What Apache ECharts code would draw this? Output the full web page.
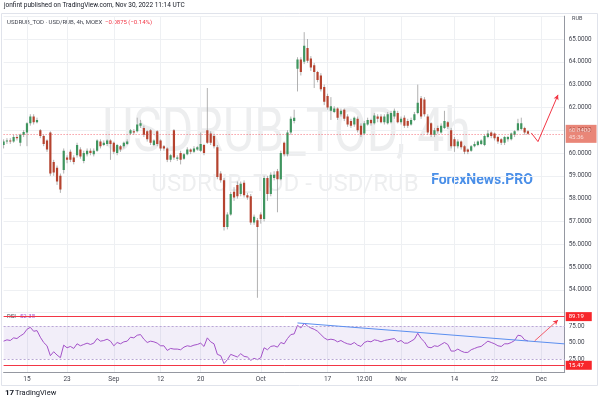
<!DOCTYPE html>
<html><head><meta charset="utf-8">
<script src="https://cdn.jsdelivr.net/npm/echarts@6/dist/echarts.min.js"></script>
<style>html,body{margin:0;padding:0;background:#fff}#c{width:600px;height:403px}</style>
</head><body><div id="c"></div>
<script>
// ---- calendar (MOEX trading days, 2 x 4h bars per day) ----
const monthNames = ['Jan','Feb','Mar','Apr','May','Jun','Jul','Aug','Sep','Oct','Nov','Dec'];
const holidays = ['2022-11-04'];
const barTimes = ['08:00','12:00'];
const categories = [];
(function(){
  let d = new Date(Date.UTC(2022,7,9));
  const end = new Date(Date.UTC(2022,11,6));
  while (d <= end) {
    const wd = d.getUTCDay(), iso = d.toISOString().slice(0,10);
    if (wd !== 0 && wd !== 6 && !holidays.includes(iso)) {
      const nm = monthNames[d.getUTCMonth()] + ' ' + d.getUTCDate();
      barTimes.forEach(t => categories.push(nm + ' ' + t));
    }
    d = new Date(d.getTime() + 86400000);
  }
  categories.shift();
})();

// ---- x tick labels ----
const xLabelAt = ['Aug 15 08:00','Aug 23 08:00','Sep 1 08:00','Sep 12 08:00','Sep 20 08:00','Oct 3 08:00','Oct 17 08:00','Oct 24 12:00','Nov 1 08:00','Nov 14 08:00','Nov 22 08:00','Dec 1 08:00'];
const xLabelText = ['15','23','Sep','12','20','Oct','17','12:00','Nov','14','22','Dec'];

// ---- price candles [open, close, low, high] from Aug 9 12:00 ----
const candles = [
[60.35,60.5,60.2,60.6],[60.5,60.55,60.4,60.65],[60.55,60.5,60.4,60.65],[60.5,60.7,60.45,60.8],[60.7,60.65,60.55,60.8],
[60.45,60.8,60.3,60.85],[60.8,60.92,60.7,61.0],[60.9,61.3,60.3,61.35],[61.3,61.6,61.2,61.7],[61.6,61.35,61.25,61.7],
[61.35,61.45,61.3,61.55],[61.0,60.75,60.65,61.05],[60.75,60.4,60.3,60.8],[60.55,60.15,60.05,60.6],[60.9,59.1,59.0,60.95],
[59.6,59.15,59.0,59.7],[59.35,58.75,58.6,59.45],[59.0,58.4,58.25,59.1],[59.25,60.1,59.1,60.2],[59.8,59.7,59.55,59.9],
[60.05,59.7,59.6,60.15],[59.8,59.6,59.5,59.9],[59.9,60.35,59.8,60.45],[60.15,59.85,59.75,60.25],[59.65,60.0,59.55,60.1],
[59.95,60.1,59.85,60.2],[60.1,60.0,59.9,60.2],[59.95,60.1,59.85,60.2],[60.1,60.55,60.05,60.6],[60.5,60.3,60.2,60.6],
[60.35,60.45,60.3,60.55],[60.4,60.55,60.3,60.6],[60.55,60.4,59.7,60.6],[60.45,60.05,59.95,60.5],[60.0,60.35,59.9,60.4],
[60.3,60.15,60.05,60.35],[60.3,60.45,60.2,60.5],[60.4,60.5,60.35,60.6],[60.85,61.0,60.8,61.05],[60.95,60.9,60.8,61.05],
[60.95,61.25,60.9,61.55],[61.2,61.3,61.1,61.45],[61.1,60.8,60.7,61.2],[60.95,60.6,60.5,61.0],[61.0,60.45,60.35,61.05],
[60.35,60.55,60.3,60.6],[60.95,60.4,60.3,61.0],[60.55,60.2,60.1,60.6],[60.3,60.2,60.1,60.35],[60.2,59.7,59.6,60.25],
[59.7,59.9,59.6,59.95],[61.0,59.8,59.7,61.05],[59.75,59.8,59.65,59.9],[60.0,59.7,59.5,60.1],[59.75,59.95,59.7,60.0],
[59.95,60.15,59.9,60.25],[60.15,60.05,59.95,60.2],[60.05,60.2,60.0,60.3],[60.15,60.25,60.1,60.3],[60.1,60.4,60.05,60.9],
[60.35,60.0,59.9,60.4],[61.0,60.45,60.4,62.85],[60.85,60.45,60.35,60.95],[60.75,60.3,60.2,60.8],[60.25,58.95,58.85,60.35],
[59.1,58.8,58.7,59.2],[58.8,56.75,56.6,58.9],[56.75,57.3,56.65,57.4],[57.3,58.2,57.25,58.3],[58.3,58.05,57.9,58.5],
[58.6,58.1,58.0,58.75],[58.2,58.65,58.1,58.75],[58.7,58.15,58.05,58.8],[58.15,58.05,57.95,58.25],[58.1,56.95,56.85,58.2],
[56.95,57.2,56.85,57.3],[57.05,56.75,53.65,57.15],[57.3,57.1,56.9,57.4],[57.1,58.9,57.0,59.0],[58.9,58.2,57.9,59.0],
[58.2,59.05,58.1,59.15],[58.9,59.05,58.8,59.2],[59.2,58.85,57.4,59.3],[58.85,60.0,58.8,60.1],[60.45,59.95,59.85,60.5],
[59.95,60.9,59.85,61.0],[60.9,61.5,60.8,61.6],[61.4,61.55,61.3,61.9],[63.7,64.1,62.7,64.2],[64.1,63.55,63.4,64.2],
[64.0,64.7,63.9,65.3],[64.6,64.05,63.95,65.0],[64.15,63.75,63.6,64.25],[63.85,63.55,62.85,63.95],[63.55,63.2,63.1,63.6],
[63.4,62.8,62.7,63.5],[62.9,62.25,62.1,63.0],[62.5,62.0,61.9,62.6],[61.85,62.05,61.45,62.45],[61.8,61.95,61.75,62.05],
[61.95,61.55,61.45,62.0],[61.7,61.85,61.6,61.95],[61.9,61.5,61.4,61.95],[61.6,61.25,61.15,61.7],[61.4,61.2,61.1,61.5],
[61.25,61.55,61.15,61.6],[61.5,61.0,60.9,61.6],[61.2,60.8,60.7,61.3],[60.85,61.3,60.8,61.4],[61.25,61.45,61.2,61.55],
[61.45,61.3,61.2,61.5],[61.3,61.65,61.25,61.75],[61.6,61.5,61.35,61.7],[61.6,61.35,61.3,61.7],[61.35,61.6,61.25,61.7],
[61.3,61.7,61.25,61.8],[61.35,61.75,61.3,61.85],[61.6,61.85,61.5,61.95],[61.75,61.35,61.3,61.85],[61.35,61.5,61.25,61.6],
[61.55,61.2,61.1,61.65],[61.4,61.2,61.1,61.5],[61.25,61.45,61.2,61.55],[61.45,61.7,61.4,61.8],[61.75,62.2,61.7,63.0],
[62.4,61.6,61.5,62.5],[62.35,61.7,61.6,62.45],[61.6,60.9,60.8,61.7],[61.3,60.8,60.7,61.35],[60.8,61.0,60.7,61.1],
[61.1,60.95,60.85,61.2],[60.9,61.2,60.85,61.3],[61.1,61.4,61.05,61.85],[61.35,61.15,61.05,61.4],[61.0,60.3,60.2,61.1],
[60.6,60.3,60.05,60.7],[60.3,60.5,60.2,60.6],[60.5,60.25,60.15,60.55],[60.3,60.05,59.95,60.35],[60.15,60.05,59.95,60.2],
[60.1,60.3,60.05,60.35],[60.3,60.4,60.25,60.5],[60.35,60.5,60.3,60.55],[60.4,60.55,60.35,60.6],[60.35,60.75,60.3,60.8],
[60.7,60.85,60.65,61.0],[60.9,60.75,60.65,60.95],[60.85,60.65,60.55,60.9],[60.7,60.5,60.4,60.75],[60.6,60.45,60.35,60.65],
[60.45,60.7,60.35,60.75],[60.6,60.7,60.5,60.75],[60.6,60.85,60.55,60.9],[60.8,60.95,60.7,61.0],[61.0,61.3,60.95,61.5],
[61.05,61.3,61.0,61.55],[61.1,60.9,60.8,61.15],[60.95,60.84,60.8,61.0]
];

// ---- RSI(14) values ----
const rsi = [
52,54,53,57,56,60,63, 70,73,67,68, 58,50,45, 30,36,31,27, 46,42,44,41,
48,45,47,49,47,49, 56,52,53,55, 52,45,50,48,51,52, 58,57,61,62,
55,50,52,51,49,45, 45,38,41,40, 40,39,43,45,44,46,47,49,44, 57,51,48,
32,30,18,24, 32,30,28,33,29,28, 23,26,24,27, 42,39,44,45,43,50,
48,56,62,63, 76,72,79,75, 72,70,67,62,57,54, 55,54,51,53,50,48,47,50,46,44,
50,52,51,54,53,51,53,54,55,56, 51,53,49,49,52,55, 64,56,51,43,
42,45,44,47,50,47, 37,37,40,37,35,35, 39,41,43,44,48,52,
50,48,45,44,48,48,50,53, 61,60,54,52.38
];

// ---- annotations ----
const lastPrice = 60.84;
const priceArrow = [['Nov 29 12:00',60.88],['Nov 30 12:00',60.5],['Dec 5 12:00',62.55]];
const rsiLevels = [89.19, 15.47];
const rsiTrend = [['Oct 10 12:00',79.6],['Dec 6 12:00',47.9]];
const rsiArrow = [['Nov 30 08:00',52.4],['Dec 5 12:00',84]];
const rsiTicks = [25,50,75];

const UP = '#3f955f', DOWN = '#b5432f', WICK = '#9d9d9d';
const FONT = 'Roboto, "Noto Sans", sans-serif';

const chart = echarts.init(document.getElementById('c'), null, {renderer:'canvas'});

function renderCandle(params, api){
  const i = api.value(0), o = api.value(1), c = api.value(2), l = api.value(3), h = api.value(4);
  const po = api.coord([i,o]), pc = api.coord([i,c]), pl = api.coord([i,l]), ph = api.coord([i,h]);
  const w = 2.2;
  const col = c >= o ? UP : DOWN;
  const top = Math.min(po[1], pc[1]);
  const bh = Math.max(1, Math.abs(po[1]-pc[1]));
  return {type:'group', children:[
    {type:'line', shape:{x1:po[0], y1:ph[1], x2:po[0], y2:pl[1]}, style:{stroke:WICK, lineWidth:0.8}},
    {type:'rect', shape:{x:po[0]-w/2, y:top, width:w, height:bh}, style:{fill:col}}
  ]};
}

const option = {
  animation:false,
  backgroundColor:'#ffffff',
  textStyle:{fontFamily:FONT},
  grid:[
    {left:3.6, right:35.3, top:16.2, height:296.4},
    {left:3.6, right:35.3, top:311, height:61}
  ],
  xAxis:[
    {type:'category', gridIndex:0, data:categories, boundaryGap:false,
     axisLine:{show:false}, axisTick:{show:false}, axisLabel:{show:false},
     splitLine:{show:true, interval:(i)=>xLabelAt.includes(categories[i]), lineStyle:{color:'#eef0f3', width:1}}},
    {type:'category', gridIndex:1, data:categories, boundaryGap:false,
     axisLine:{show:true, lineStyle:{color:'#9598a1', width:1}}, axisTick:{show:false},
     axisLabel:{show:true, interval:(i)=>xLabelAt.includes(categories[i]), formatter:(v)=>xLabelText[xLabelAt.indexOf(v)],
       fontSize:6.5, color:'#434651', margin:4, fontFamily:FONT},
     splitLine:{show:true, interval:(i)=>xLabelAt.includes(categories[i]), lineStyle:{color:'#eef0f3', width:1}}}
  ],
  yAxis:[
    {type:'value', gridIndex:0, position:'right', min:53, max:66, interval:1,
     axisLine:{show:true, lineStyle:{color:'#9598a1', width:1}}, axisTick:{show:false},
     axisLabel:{show:true, showMinLabel:false, showMaxLabel:false, formatter:(v)=>v.toFixed(4), fontSize:6.3, color:'#434651', margin:4, fontFamily:FONT},
     splitLine:{show:true, lineStyle:{color:'#eef0f3', width:1}}},
    {type:'value', gridIndex:1, position:'right', min:5.3, max:97.7,
     axisLine:{show:true, lineStyle:{color:'#9598a1', width:1}}, axisTick:{show:false},
     axisLabel:{show:true, customValues:rsiTicks, formatter:(v)=>v.toFixed(2), fontSize:6.3, color:'#434651', margin:4, fontFamily:FONT},
     splitLine:{show:false}}
  ],
  series:[
    {type:'custom', xAxisIndex:0, yAxisIndex:0, renderItem:renderCandle, clip:true,
     data:candles.map((d,i)=>[i, d[0], d[1], d[2], d[3]]),
     markLine:{silent:true, symbol:'none', animation:false, data:[
       {yAxis:lastPrice, lineStyle:{color:'#f23645', type:[1,2], width:1, opacity:0.7},
        label:{show:true, position:'end', distance:1, formatter:'60.8400\n45:36', backgroundColor:'#e0533f', color:'#fff',
               fontSize:6, lineHeight:7.5, padding:[1.5,6,1.5,3], fontFamily:FONT}},
       [{coord:priceArrow[0], symbol:'none'}, {coord:priceArrow[1], symbol:'none', lineStyle:{color:'#f23645', width:1, type:'solid'}}],
       [{coord:priceArrow[1], symbol:'none'}, {coord:priceArrow[2], symbol:'arrow', symbolSize:[4,5], lineStyle:{color:'#f23645', width:1, type:'solid'}}]
     ]}},
    {type:'line', xAxisIndex:1, yAxisIndex:1, data:rsi, showSymbol:false, symbol:'none',
     lineStyle:{color:'#a352c8', width:1}, z:3,
     markArea:{silent:true, itemStyle:{color:'rgba(126,87,194,0.10)'}, data:[[{yAxis:25},{yAxis:75}]]},
     markLine:{silent:true, symbol:'none', animation:false, data:[
       {yAxis:75, lineStyle:{color:'#b9a7d6', type:[2,2], width:1}, label:{show:false}},
       {yAxis:25, lineStyle:{color:'#b9a7d6', type:[2,2], width:1}, label:{show:false}},
       {yAxis:rsiLevels[0], lineStyle:{color:'#f23645', type:'solid', width:1}, label:{show:true, position:'end', distance:1, formatter:'89.19', backgroundColor:'#f7262b', color:'#fff', fontSize:6, padding:[1.5,8,1.5,3], fontFamily:FONT}},
       {yAxis:rsiLevels[1], lineStyle:{color:'#f23645', type:'solid', width:1}, label:{show:true, position:'end', distance:1, formatter:'15.47', backgroundColor:'#f7262b', color:'#fff', fontSize:6, padding:[1.5,8,1.5,3], fontFamily:FONT}},
       [{coord:rsiTrend[0], symbol:'none'}, {coord:rsiTrend[1], symbol:'none', lineStyle:{color:'#5b8ff0', width:1, type:'solid'}, label:{show:false}}],
       [{coord:rsiArrow[0], symbol:'none'}, {coord:rsiArrow[1], symbol:'arrow', symbolSize:[4,5], lineStyle:{color:'#f23645', width:0.8, type:'solid'}, label:{show:false}}]
     ]}}
  ],
  graphic:[
    {type:'text', left:4, top:2, style:{text:'jonfint published on TradingView.com, Nov 30, 2022 11:14 UTC', fontSize:6.5, fill:'#131722', fontFamily:FONT}},
    {type:'rect', shape:{x:1.5, y:13.5, width:596, height:372}, style:{fill:'none', stroke:'#e0e3eb', lineWidth:1}, z:-1},
    {type:'text', x:286.5, y:135, scaleX:0.775, originX:0, originY:0, style:{text:'USDRUB_TOD, 4h', fontSize:62, fill:'rgba(19,23,34,0.075)', fontFamily:FONT, align:'center', verticalAlign:'middle'}, z:-1},
    {type:'text', x:285, y:185, style:{text:'USDRUB_TOD - USD/RUB', fontSize:24, fill:'rgba(19,23,34,0.075)', fontFamily:FONT, align:'center', verticalAlign:'middle'}, z:-1},
    {type:'text', x:482, y:180, style:{text:'ForexNews.PRO', fontSize:14, fontWeight:'bold', fill:'#4a8fe8', fontFamily:FONT, align:'center', verticalAlign:'middle'}},
    {type:'text', left:7, top:19.5, style:{text:'USDRUB_TOD · USD/RUB, 4h, MOEX', fontSize:6, fill:'#434651', fontFamily:FONT}},
    {type:'text', left:105, top:19.5, style:{text:'−0.0875 (−0.14%)', fontSize:6, fill:'#f23645', fontFamily:FONT}},
    {type:'text', left:572, top:15.5, style:{text:'RUB', fontSize:5.5, fill:'#434651', fontFamily:FONT}},
    {type:'text', left:7, top:313, style:{text:'RSI', fontSize:6, fill:'#434651', fontFamily:FONT}},
    {type:'text', left:20, top:313, style:{text:'52.38', fontSize:6, fill:'#a352c8', fontFamily:FONT}},
    {type:'text', left:5, top:389, style:{text:'17', fontSize:8, fill:'#131722', fontFamily:FONT, fontWeight:'bold'}},
    {type:'text', left:15, top:389.5, style:{text:'TradingView', fontSize:7.5, fill:'#131722', fontFamily:FONT}}
  ]
};
chart.setOption(option);
</script>
</body></html>
